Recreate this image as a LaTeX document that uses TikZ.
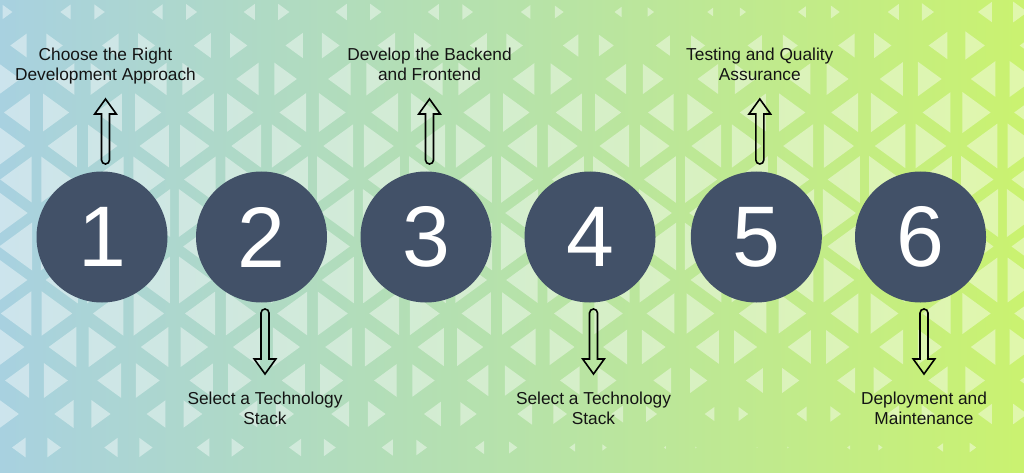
\documentclass[tikz,border=0pt]{standalone}
\usepackage{fontspec}
\setmainfont{Liberation Sans}
\usetikzlibrary{calc}
\definecolor{bgL}{RGB}{168,209,224}
\definecolor{bgM}{RGB}{182,226,170}
\definecolor{bgR}{RGB}{202,242,112}
\definecolor{disc}{RGB}{66,81,104}
\tikzset{
  circ/.style={circle, fill=disc, minimum size=131, inner sep=0, text=white,
    font=\fontsize{86}{86}\selectfont},
  lbl/.style={anchor=base, inner sep=0, font=\fontsize{17.3}{20}\selectfont, text=black!92},
  arrowline/.style={draw=black, line width=1.6, line join=miter},
  tri/.style={fill=white, fill opacity=0.42},
  uparr/.pic={\draw[arrowline] (0,0) -- (10.8,15) -- (4,15) -- (4,61)
      arc[start angle=0,end angle=180,radius=4] -- (-4,15) -- (-10.8,15) -- cycle;},
  downarr/.pic={\draw[arrowline] (0,0) -- (10.8,-15) -- (4,-15) -- (4,-61)
      arc[start angle=0,end angle=-180,radius=4] -- (-4,-15) -- (-10.8,-15) -- cycle;}
}
\begin{document}
\begin{tikzpicture}[x=1pt,y=-1pt]
\useasboundingbox (0,0) rectangle (1024,473);
\shade[left color=bgL, right color=bgR, middle color=bgM] (0,0) rectangle (1024,473);
% triangle pattern
\begin{scope}
\clip (0,0) rectangle (1024,473);
\foreach \ri in {0,...,13}{
  \foreach \kc in {-1,...,21}{
    \pgfmathsetmacro\yy{12+33.5*\ri}
    \pgfmathtruncatemacro\ori{mod(\ri+\kc+100,2)}
    \pgfmathsetmacro\sg{2*\ori-1}
    \pgfmathsetmacro\cx{36.5+46*\kc+23-\sg*23/3}
    \pgfmathsetmacro\tq{(\cx-720)/200}
    \pgfmathsetmacro\kk{0.5+0.2*exp(-1*(\tq)*(\tq))}
    \pgfmathsetmacro\yc{240-0.02734*\cx}
    \pgfmathsetmacro\dd{(\yy-\yc)/33.5}
    \pgfmathsetmacro\ww{max(0,33-\kk*(\dd)*(\dd))}
    \pgfmathsetmacro\ff{\ww/46}
    \pgfmathsetmacro\ex{\cx-\sg*\ff*15.333}
    \pgfmathsetmacro\ax{\cx+\sg*\ff*30.667}
    \pgfmathsetmacro\hv{\ff*33.5}
    \fill[tri] (\ex,\yy-\hv) -- (\ex,\yy+\hv) -- (\ax,\yy) -- cycle;
  }
}
\end{scope}
% circles
\node[circ] (c1) at (102,237) {1};
\node[circ] (c2) at (261.5,237) {2};
\node[circ] (c3) at (426,237) {3};
\node[circ] (c4) at (590,237) {4};
\node[circ] (c5) at (756.3,237) {5};
\node[circ] (c6) at (920.5,237) {6};
% arrows
\pic at ($(c1)+(3.5,-138)$) {uparr};
\pic at ($(c2)+(3.5,137)$) {downarr};
\pic at ($(c3)+(3.5,-138)$) {uparr};
\pic at ($(c4)+(3.5,137)$) {downarr};
\pic at ($(c5)+(3.5,-138)$) {uparr};
\pic at ($(c6)+(3.5,137)$) {downarr};
% labels
\node[lbl] (t1a) at ($(c1)+(3.5,-176)$) {Choose the Right};
\node[lbl] (t1b) at ($(c1)+(3.5,-156)$) {Development Approach};
\node[lbl] (t2a) at ($(c2)+(3.5,167)$) {Select a Technology};
\node[lbl] (t2b) at ($(c2)+(3.5,187)$) {Stack};
\node[lbl] (t3a) at ($(c3)+(3.5,-176)$) {Develop the Backend};
\node[lbl] (t3b) at ($(c3)+(3.5,-156)$) {and Frontend};
\node[lbl] (t4a) at ($(c4)+(3.5,167)$) {Select a Technology};
\node[lbl] (t4b) at ($(c4)+(3.5,187)$) {Stack};
\node[lbl] (t5a) at ($(c5)+(3.5,-176)$) {Testing and Quality};
\node[lbl] (t5b) at ($(c5)+(3.5,-156)$) {Assurance};
\node[lbl] (t6a) at ($(c6)+(3.5,167)$) {Deployment and};
\node[lbl] (t6b) at ($(c6)+(3.5,187)$) {Maintenance};
\end{tikzpicture}
\end{document}
